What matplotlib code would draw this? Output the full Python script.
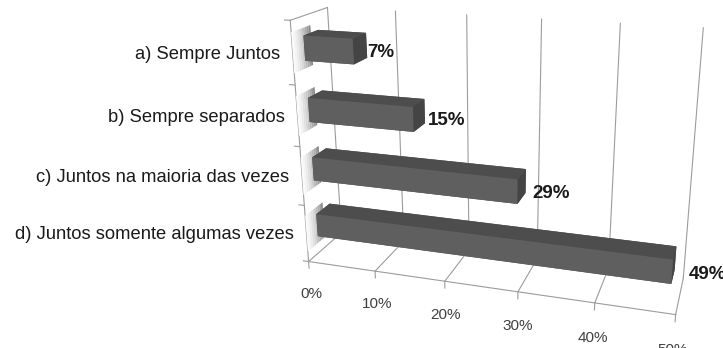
import numpy as np
import matplotlib.pyplot as plt
from matplotlib.colors import to_rgb
from mpl_toolkits.mplot3d import Axes3D  # noqa: F401
from mpl_toolkits.mplot3d.art3d import Poly3DCollection

# respostas (de baixo para cima no grafico)
categorias = ['d) Juntos somente algumas vezes',
              'c) Juntos na maioria das vezes',
              'b) Sempre separados',
              'a) Sempre Juntos']
valores = [49, 29, 15, 7]
marcas = [0, 10, 20, 30, 40, 50]
rotulos = ['0%', '10%', '20%', '30%', '40%', '50%']

plt.rcParams['font.family'] = ['Liberation Sans', 'DejaVu Sans']

fig = plt.figure(figsize=(7.23, 3.48), dpi=100)
lado = 4.8 * 0.955  # lado do quadrado dos eixos 3d, em polegadas
cx, cy = 486 / 723, 1 - 159 / 348
w, h = lado / 7.23, lado / 3.48
ax = fig.add_axes([cx - w / 2, cy - h / 2, w, h], projection='3d')
ax.set_proj_type('persp', focal_length=0.35)
ax.view_init(elev=19, azim=-73)
ax.set_box_aspect((382, 77, 256), zoom=1.0)
ax.set_xlim(0, 50)
ax.set_ylim(0, 1)
ax.set_zlim(0, 4)
ax.set_xticks([])
ax.set_yticks([])
ax.set_zticks([])
for eixo in (ax.xaxis, ax.yaxis, ax.zaxis):
    eixo.label.set_visible(False)
    eixo.offsetText.set_visible(False)
ax.set_axis_off()
ax.computed_zorder = False

cinza = '#9c9c9c'
lw = 0.8
n = len(valores)

# grade na parede do fundo e no piso
for v in marcas:
    ax.plot([v, v], [1, 1], [0, n], color=cinza, lw=lw, zorder=1)
    ax.plot([v, v], [0, 1], [0, 0], color=cinza, lw=lw, zorder=1)
    ax.plot([v, v], [0, 0], [0, -0.12], color=cinza, lw=lw, zorder=1)
ax.plot([0, 50], [0, 0], [0, 0], color=cinza, lw=lw, zorder=1)

# parede lateral
ax.plot([0, 0], [0, 0], [0, n], color=cinza, lw=lw, zorder=1)
ax.plot([0, 0], [0, 1], [n, n], color=cinza, lw=lw, zorder=1)
for z in range(n + 1):
    ax.plot([0, -0.8], [0, 0], [z, z], color=cinza, lw=lw, zorder=1)

# sombra esfumada de cada barra na parede lateral
branco = np.array(to_rgb('white'))
escuro = np.array(to_rgb('#8a8a8a'))
fatias = np.linspace(0.0, 0.5, 11)
for i in range(n):
    z0, z1 = i + 0.18, i + 0.82
    for k in range(len(fatias) - 1):
        ya, yb = fatias[k], fatias[k + 1]
        t = (k + 1) / (len(fatias) - 1)
        cor = branco + (escuro - branco) * t ** 1.5
        quad = [[(0, ya, z0), (0, yb, z0), (0, yb, z1), (0, ya, z1)]]
        ax.add_collection3d(Poly3DCollection(quad, facecolor=cor,
                                             edgecolor='none', zorder=2))

# barras: cores por face (base, topo, frente, fundo, esquerda, direita)
faces = ['#555555', '#4d4d4d', '#5f5f5f', '#555555', '#555555', '#444444']
ax.bar3d(np.zeros(n), np.full(n, 0.3), np.arange(n) + 0.3,
         valores, np.full(n, 0.4), np.full(n, 0.4),
         color=faces * n, shade=False, edgecolor='none', linewidth=0,
         zorder=3)

for i, (cat, val) in enumerate(zip(categorias, valores)):
    ax.text(-1.9, 0, i + 0.46, cat, ha='right', va='center',
            fontsize=13.2, color='#1a1a1a', zorder=5)
    ax.text(val + 2.0, 0.3, i + 0.5, f'{val}%', ha='left', va='center',
            fontsize=13.5, fontweight='bold', color='#1a1a1a', zorder=5)

for v, r in zip(marcas, rotulos):
    ax.text(v, 0, -0.6, r, ha='center', va='center',
            fontsize=11, color='#404040', zorder=5)

fig.savefig('out.png', dpi=100)
